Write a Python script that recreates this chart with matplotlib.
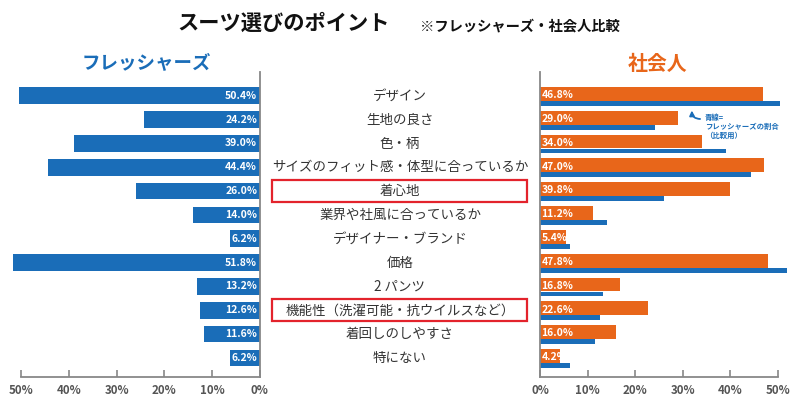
import matplotlib
matplotlib.use("Agg")
import matplotlib.pyplot as plt
from matplotlib.patches import Rectangle

plt.rcParams['font.family'] = ['Noto Sans CJK JP', 'DejaVu Sans']

categories = ["デザイン", "生地の良さ", "色・柄", "サイズのフィット感・体型に合っているか",
              "着心地", "業界や社風に合っているか", "デザイナー・ブランド", "価格",
              "2 パンツ", "機能性（洗濯可能・抗ウイルスなど）", "着回しのしやすさ", "特にない"]
freshers = [50.4, 24.2, 39.0, 44.4, 26.0, 14.0, 6.2, 51.8, 13.2, 12.6, 11.6, 6.2]
workers = [46.8, 29.0, 34.0, 47.0, 39.8, 11.2, 5.4, 47.8, 16.8, 22.6, 16.0, 4.2]
highlight = ["着心地", "機能性（洗濯可能・抗ウイルスなど）"]
ticks = [0, 10, 20, 30, 40, 50]

BLUE = "#1a6db8"
ORANGE = "#e8661a"
RED = "#e3232c"
GRAY = "#888888"

fig = plt.figure(figsize=(8, 4), dpi=100)
bottom, height = 23 / 400, 305 / 400
ylim = (11.8, -1.0)
y = list(range(len(categories)))

# left: freshers
ax_l = fig.add_axes([9.5 / 800, bottom, 250 / 800, height])
ax_l.barh(y, freshers, height=0.7, color=BLUE)
for i, v in enumerate(freshers):
    ax_l.text(0.5, i, f"{v:.1f}%", ha='right', va='center', color='white',
              fontsize=7.5, fontweight='bold')
ax_l.set_xlim(52.5, 0)

# right: workers, with freshers as thin blue line
ax_r = fig.add_axes([540 / 800, bottom, 250 / 800, height])
ax_r.barh([i - 0.08 for i in y], workers, height=0.58, color=ORANGE)
ax_r.barh([i + 0.315 for i in y], freshers, height=0.2, color=BLUE)
for i, v in enumerate(workers):
    ax_r.text(0.3, i - 0.03, f"{v:.1f}%", ha='left', va='center', color='white',
              fontsize=7.5, fontweight='bold')
ax_r.set_xlim(0, 52.5)

for ax, side in ((ax_l, 'right'), (ax_r, 'left')):
    ax.set_ylim(*ylim)
    ax.set_yticks([])
    ax.set_xticks(ticks)
    ax.set_xticklabels([f"{t}%" for t in ticks])
    for s in ax.spines.values():
        s.set_visible(False)
    ax.spines['bottom'].set_visible(True)
    ax.spines['bottom'].set_bounds(0, 50)
    ax.spines[side].set_visible(True)
    for s in ('bottom', side):
        ax.spines[s].set_color(GRAY)
        ax.spines[s].set_linewidth(1.3)
    ax.tick_params(axis='x', direction='in', length=5, width=1.2, color=GRAY,
                   labelsize=8.3, labelcolor='#555555', pad=5)
    for lbl in ax.get_xticklabels():
        lbl.set_fontweight('bold')

# center labels
ax_c = fig.add_axes([260 / 800, bottom, 280 / 800, height])
ax_c.set_xlim(0, 1)
ax_c.set_ylim(*ylim)
ax_c.axis('off')
for i, c in enumerate(categories):
    ax_c.text(0.5, i, c, ha='center', va='center', fontsize=9.7, color='#333333')
    if c in highlight:
        ax_c.add_patch(Rectangle((0.043, i - 0.46), 0.911, 0.93, fill=False,
                                 edgecolor=RED, linewidth=1.6))

# note on blue line
ax_r.text(34.6, 0.74, "青線=\nフレッシャーズの割合\n（比較用）", ha='left', va='top',
          fontsize=5.3, color=BLUE, fontweight='bold', linespacing=1.25)
ax_r.annotate("", xy=(31.9, 0.5), xytext=(34.2, 0.97),
              arrowprops=dict(arrowstyle='-|>', color=BLUE, lw=1.3, mutation_scale=7,
                              connectionstyle='arc3,rad=-0.6'))

# titles
fig.text(177 / 800, 1 - 23 / 400, "スーツ選びのポイント", ha='left', va='center',
         fontsize=15.3, fontweight='bold', color='#111111')
fig.text(420 / 800, 1 - 26 / 400, "※フレッシャーズ・社会人比較", ha='left', va='center',
         fontsize=10.3, fontweight='bold', color='#111111')
fig.text(146 / 800, 1 - 63 / 400, "フレッシャーズ", ha='center', va='center',
         fontsize=13.3, fontweight='bold', color=BLUE)
fig.text(658 / 800, 1 - 63 / 400, "社会人", ha='center', va='center',
         fontsize=14.3, fontweight='bold', color=ORANGE)

fig.savefig("out.png", dpi=100)
